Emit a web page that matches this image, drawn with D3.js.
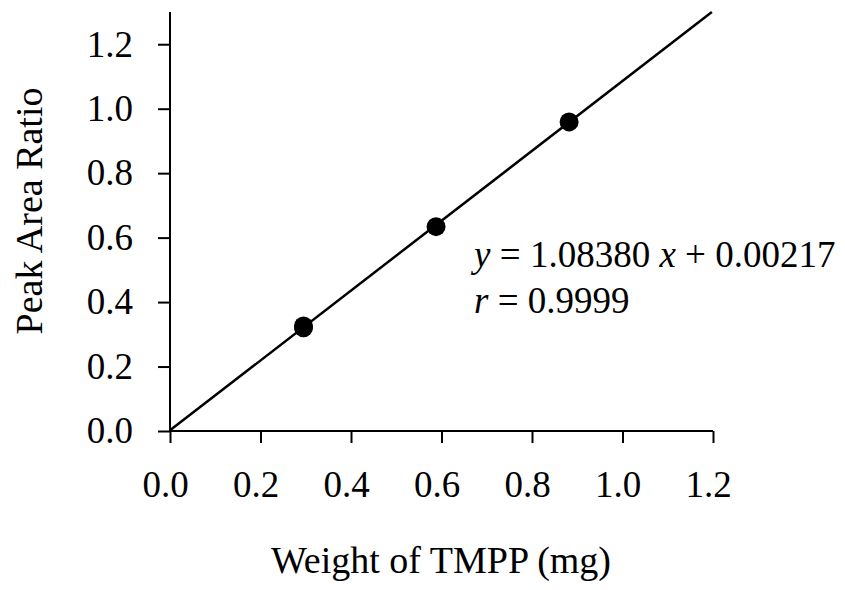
<!DOCTYPE html>
<html>
<head>
<meta charset="utf-8">
<script src="https://cdn.jsdelivr.net/npm/d3@7"></script>
<style>
  body { margin: 0; background: #fff; }
  svg { display: block; }
  text { font-family: "Liberation Serif", "Times New Roman", serif; fill: #000; }
</style>
</head>
<body>
<div class="canvas"></div>
<script>
// Data
const weights = [0.295, 0.295, 0.588, 0.882];   // mg
const ratios = [0.320, 0.326, 0.634, 0.959];
const xTicks = [0, 0.2, 0.4, 0.6, 0.8, 1.0, 1.2];
const yTicks = [0, 0.2, 0.4, 0.6, 0.8, 1.0, 1.2];
const slope = 1.08380;
const intercept = 0.00217;

const width = 845, height = 590;
const margin = { top: 12, right: 132, bottom: 159, left: 170 };
const graphWidth = width - margin.left - margin.right;
const graphHeight = height - margin.top - margin.bottom;

const svg = d3.select(".canvas")
    .append("svg")
    .attr("width", width)
    .attr("height", height);

const graph = svg.append("g")
    .attr("transform", `translate(${margin.left}, ${margin.top})`);

// Scales
const x = d3.scaleLinear().domain([0, 1.2]).range([0, graphWidth]);
const y = d3.scaleLinear().domain([0, 1.3]).range([graphHeight, 0]);

// Axes
const xAxis = d3.axisBottom(x)
    .tickValues(xTicks)
    .tickSize(12)
    .tickPadding(28)
    .tickFormat(d3.format(".1f"));
const yAxis = d3.axisLeft(y)
    .tickValues(yTicks)
    .tickSize(12)
    .tickPadding(25)
    .tickFormat(d3.format(".1f"));

const xAxisGroup = graph.append("g")
    .attr("transform", `translate(0, ${graphHeight})`)
    .call(xAxis);
const yAxisGroup = graph.append("g").call(yAxis);

[xAxisGroup, yAxisGroup].forEach(g => {
    g.select(".domain").attr("stroke", "#000").attr("stroke-width", 2).attr("d",
        g === xAxisGroup ? `M0,0H${graphWidth}` : `M0,0V${graphHeight}`);
    g.selectAll(".tick line").attr("stroke", "#000").attr("stroke-width", 2);
    g.selectAll(".tick text")
        .attr("font-size", 37)
        .attr("font-family", "Liberation Serif");
});
xAxisGroup.selectAll(".tick text").attr("dx", -5);

// Regression line
const line = d3.line().x(d => x(d)).y(d => y(slope * d + intercept));
const xEnd = Math.min(1.2, (1.3 - intercept) / slope);
graph.append("path")
    .datum([0, xEnd])
    .attr("d", line)
    .attr("fill", "none")
    .attr("stroke", "#000")
    .attr("stroke-width", 2.5);

// Points
graph.selectAll("circle")
    .data(weights)
    .enter()
    .append("circle")
    .attr("cx", d => x(d))
    .attr("cy", (d, i) => y(ratios[i]))
    .attr("r", 9.5)
    .attr("fill", "#000");

// Equation text
const eq = graph.append("g").attr("font-size", 37);
const t1 = eq.append("text").attr("x", x(0.672)).attr("y", y(0.509));
t1.append("tspan").attr("font-style", "italic").text("y");
t1.append("tspan").text(" = 1.08380 ");
t1.append("tspan").attr("font-style", "italic").text("x");
t1.append("tspan").text(" + 0.00217");
const t2 = eq.append("text").attr("x", x(0.672)).attr("y", y(0.366));
t2.append("tspan").attr("font-style", "italic").text("r");
t2.append("tspan").text(" = 0.9999");

// Axis titles
svg.append("text")
    .attr("x", 441)
    .attr("y", 573)
    .attr("text-anchor", "middle")
    .attr("font-size", 38)
    .text("Weight of TMPP (mg)");

svg.append("text")
    .attr("transform", "translate(42, 211) rotate(-90)")
    .attr("text-anchor", "middle")
    .attr("font-size", 38)
    .text("Peak Area Ratio");
</script>
</body>
</html>
